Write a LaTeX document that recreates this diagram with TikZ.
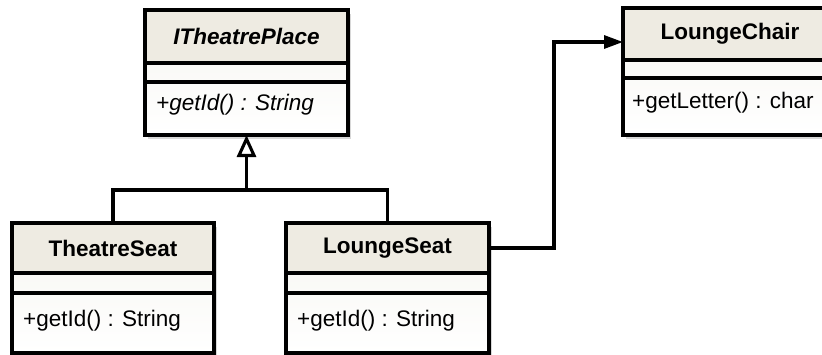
\documentclass[tikz,border=0pt]{standalone}
\usepackage{fontspec}
\setmainfont{Liberation Sans}
\usetikzlibrary{arrows.meta,shadows,calc}
\definecolor{headfill}{HTML}{EEEBE2}
\definecolor{bodyfill}{HTML}{F6F5F0}
\tikzset{
  umlline/.style={line width=3.1pt, draw=black},
  classbox/.style={anchor=north west, inner sep=0pt, outer sep=0pt,
    top color=bodyfill, bottom color=white,
    drop shadow={shadow xshift=3pt, shadow yshift=-4pt, opacity=0.3}},
  titletext/.style={font=\fontsize{22.5}{26}\selectfont\bfseries, inner sep=0pt},
  methodtext/.style={font=\fontsize{22.5}{26}\selectfont, inner sep=0pt, anchor=west},
}
% \umlclass{name}{x}{y}{width}{height}{header height}{attribute height}{method offset}
\newcommand\umlclass[8]{%
  \node[classbox, minimum width=#4pt, minimum height=#5pt] (#1) at (#2,#3) {};
  \fill[headfill] (#1.north west) rectangle ($(#1.north east)+(0,#6)$);
  \draw[umlline] ($(#1.north west)+(0,#6)$) -- ($(#1.north east)+(0,#6)$);
  \draw[umlline] ($(#1.north west)+(0,#6+#7)$) -- ($(#1.north east)+(0,#6+#7)$);
  \draw[umlline] (#1.north west) rectangle (#1.south east);
  \coordinate (#1-title) at ($(#1.north)+(0,#6/2)$);
  \coordinate (#1-method) at ($(#1.north west)+(11,#6+#7+#8)$);
}
\begin{document}
\begin{tikzpicture}[x=1pt,y=-1pt]
  \clip (0,0) rectangle (822,354);
  \fill[white] (0,0) rectangle (822,354);

  % interface
  \umlclass{itp}{145}{10}{203}{125}{53}{19}{23}
  \node[titletext, font=\fontsize{22.5}{26}\selectfont\bfseries\itshape] at (itp-title) {ITheatrePlace};
  \node[methodtext, font=\fontsize{22.5}{26}\selectfont\itshape] at (itp-method) {+getId() : String};

  % implementing classes
  \umlclass{ts}{12}{223}{202}{130}{50}{20}{28}
  \node[titletext] at (ts-title) {TheatreSeat};
  \node[methodtext] at (ts-method) {+getId() : String};

  \umlclass{ls}{286}{223}{203}{130}{50}{20}{28}
  \node[titletext] at (ls-title) {LoungeSeat};
  \node[methodtext] at (ls-method) {+getId() : String};

  % adaptee
  \umlclass{lc}{623}{8}{214}{127}{52}{18}{25}
  \node[titletext] at (lc-title) {LoungeChair};
  \node[methodtext] at ($(lc-method)+(-2,0)$) {+getLetter() : char};

  % realization hierarchy
  \coordinate (fork) at ($(itp.south)+(0,55)$);
  \draw[umlline] (ts.north) |- (fork) -| (ls.north);
  \draw[umlline, -{Triangle[open, fill=white, length=22pt, width=19pt]}] (fork) -- (itp.south);

  % association to the adaptee
  \draw[umlline, -{Triangle[length=19pt, width=13pt]}]
    ($(ls.north east)+(0,25)$) -- ++(65,0) |- ($(lc.north west)+(0,34)$);
\end{tikzpicture}
\end{document}
